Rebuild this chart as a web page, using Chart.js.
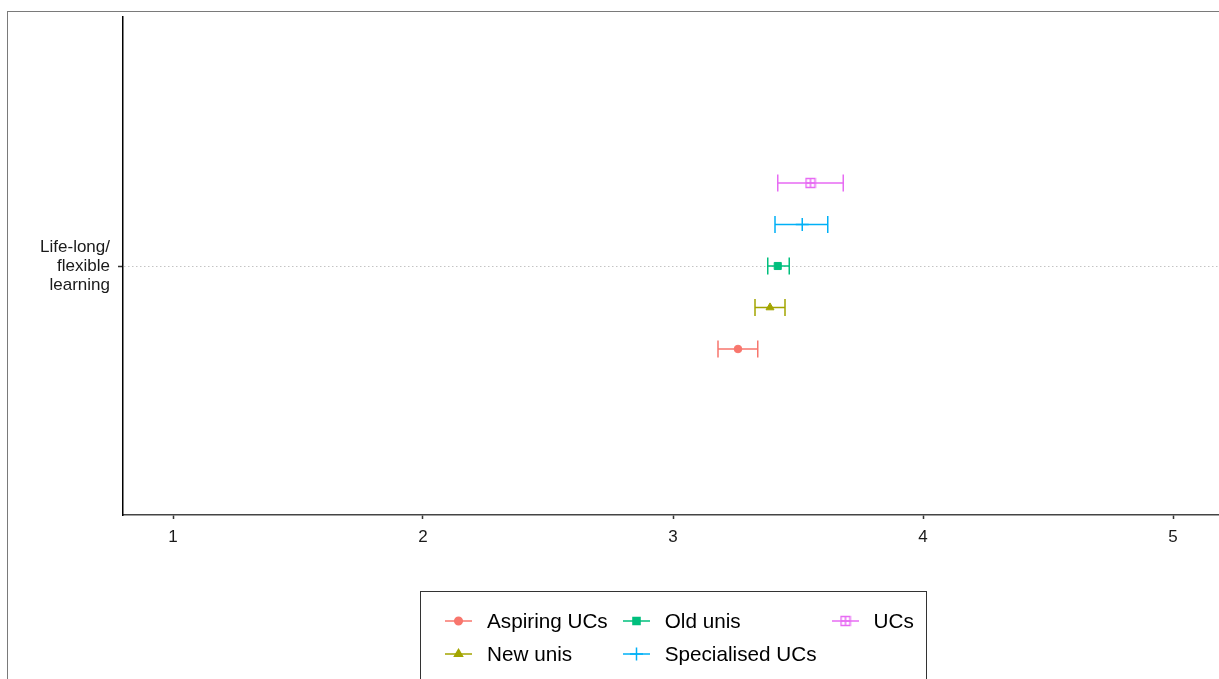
<!DOCTYPE html>
<html>
<head>
<meta charset="utf-8">
<script src="https://cdn.jsdelivr.net/npm/chart.js@4.4.1/dist/chart.umd.min.js"></script>
<style>
  html, body { margin: 0; padding: 0; background: #fff; }
  #wrap { position: relative; width: 1219px; height: 679px; overflow: hidden; font-family: 'Liberation Sans', Arial, sans-serif; }
  #frame { position: absolute; left: 7px; top: 11px; width: 1300px; height: 800px; border-left: 1px solid #7a7a7a; border-top: 1px solid #7a7a7a; }
  #chart { position: absolute; left: 0; top: 0; }
  #legend { position: absolute; left: 420px; top: 591px; width: 507px; height: 120px; border: 1px solid #333; box-sizing: border-box; background: #fff; }
  #legend .grid { position: absolute; left: 24px; top: 12px; display: grid; grid-template-rows: 33px 33px; grid-auto-flow: column; column-gap: 15px; }
  .item { display: flex; align-items: center; font-size: 20.7px; color: #000; white-space: nowrap; }
  .item canvas { margin-right: 15px; }
</style>
</head>
<body>
<div id="wrap">
  <div id="frame"></div>
  <canvas id="chart" width="1219" height="679"></canvas>
  <div id="legend"><div class="grid" id="legend-items"></div></div>
</div>
<script>
const categories = [['Life-long/', 'flexible', 'learning']]
const groups = ['Aspiring UCs', 'New unis', 'Old unis', 'Specialised UCs', 'UCs']
const means = [3.26, 3.388, 3.419, 3.517, 3.55]
const lows = [3.18, 3.328, 3.379, 3.408, 3.419]
const highs = [3.339, 3.448, 3.465, 3.619, 3.681]
const xTicks = [1, 2, 3, 4, 5]
const colors = ['#F8766D', '#A3A500', '#00BF7D', '#00B0F6', '#E76BF3']

const FONT = "'Liberation Sans', Arial, sans-serif"
const dodge = 0.5

// square with a plus inside (ggplot shape 12)
function squarePlus(color) {
  const c = document.createElement('canvas')
  c.width = 12; c.height = 12
  const g = c.getContext('2d')
  g.strokeStyle = color; g.lineWidth = 1.5
  g.strokeRect(1.5, 1.5, 9, 9)
  g.beginPath()
  g.moveTo(6, 1.5); g.lineTo(6, 10.5)
  g.moveTo(1.5, 6); g.lineTo(10.5, 6)
  g.stroke()
  return c
}

const shapes = [
  { pointStyle: 'circle', radius: 3.8, borderWidth: 1 },
  { pointStyle: 'triangle', radius: 4.6, borderWidth: 1 },
  { pointStyle: 'rect', radius: 5, borderWidth: 1 },
  { pointStyle: 'cross', radius: 6.5, borderWidth: 1.5 },
  { pointStyle: squarePlus(colors[4]), radius: 6, borderWidth: 1 }
]

function dodgeY(i) {
  return 1 + (i - (groups.length - 1) / 2) * dodge / groups.length
}

const errorBars = {
  id: 'errorBars',
  beforeDatasetsDraw(chart) {
    const { ctx, chartArea, scales: { x, y } } = chart
    ctx.save()
    ctx.strokeStyle = '#c4c4c4'
    ctx.lineWidth = 1
    ctx.setLineDash([1.5, 2.5])
    categories.forEach((c, k) => {
      const py = Math.round(y.getPixelForValue(k + 1)) + 0.5
      ctx.beginPath(); ctx.moveTo(chartArea.left + 1, py); ctx.lineTo(chartArea.right, py); ctx.stroke()
    })
    ctx.setLineDash([])
    ctx.lineWidth = 1.5
    groups.forEach((g, i) => {
      const py = y.getPixelForValue(dodgeY(i))
      const x1 = x.getPixelForValue(lows[i])
      const x2 = x.getPixelForValue(highs[i])
      ctx.strokeStyle = colors[i]
      ctx.beginPath()
      ctx.moveTo(x1, py); ctx.lineTo(x2, py)
      ctx.moveTo(x1, py - 8.5); ctx.lineTo(x1, py + 8.5)
      ctx.moveTo(x2, py - 8.5); ctx.lineTo(x2, py + 8.5)
      ctx.stroke()
    })
    ctx.restore()
  }
}

new Chart(document.getElementById('chart'), {
  type: 'scatter',
  data: {
    datasets: groups.map((g, i) => ({
      label: g,
      data: [{ x: means[i], y: dodgeY(i) }],
      pointStyle: shapes[i].pointStyle,
      pointRadius: shapes[i].radius,
      pointBorderWidth: shapes[i].borderWidth,
      pointBackgroundColor: colors[i],
      pointBorderColor: colors[i]
    }))
  },
  options: {
    responsive: false,
    animation: false,
    devicePixelRatio: 1,
    layout: { autoPadding: false, padding: { top: 17, left: 0, right: 0, bottom: 0 } },
    plugins: { legend: { display: false }, tooltip: { enabled: false } },
    scales: {
      x: {
        type: 'linear', min: 0.8, max: 5.184,
        afterBuildTicks: s => { s.ticks = xTicks.map(v => ({ value: v })) },
        afterFit: s => { s.height = 164; s.paddingLeft = 0; s.paddingRight = 0 },
        grid: { drawOnChartArea: false, tickLength: 4, tickColor: '#333', tickWidth: 1.5 },
        border: { color: '#444', width: 1.5 },
        ticks: { color: '#1a1a1a', font: { size: 17, family: FONT }, padding: 8, maxRotation: 0 }
      },
      y: {
        type: 'linear', min: 0.4, max: 1.6,
        afterBuildTicks: s => { s.ticks = categories.map((c, k) => ({ value: k + 1 })) },
        afterFit: s => { s.width = 123; s.paddingTop = 0; s.paddingBottom = 0 },
        grid: { drawOnChartArea: false, tickLength: 5, tickColor: '#333', tickWidth: 1.5 },
        border: { color: '#000', width: 1.5 },
        ticks: { color: '#1a1a1a', font: { size: 17, family: FONT, lineHeight: 1.12 }, padding: 8, callback: v => categories[v - 1] }
      }
    }
  },
  plugins: [errorBars]
})

// legend, laid out column by column like the original
const box = document.getElementById('legend-items')
groups.forEach((g, i) => {
  const item = document.createElement('div')
  item.className = 'item'
  const c = document.createElement('canvas')
  c.width = 27; c.height = 20
  const ctx = c.getContext('2d')
  ctx.strokeStyle = colors[i]; ctx.fillStyle = colors[i]; ctx.lineWidth = 1.5
  ctx.beginPath(); ctx.moveTo(0, 10); ctx.lineTo(27, 10); ctx.stroke()
  Chart.helpers.drawPoint(ctx, { pointStyle: shapes[i].pointStyle, radius: shapes[i].radius, borderWidth: shapes[i].borderWidth, rotation: 0 }, 13.5, 10)
  const t = document.createElement('span')
  t.textContent = g
  item.appendChild(c); item.appendChild(t)
  box.appendChild(item)
})
</script>
</body>
</html>
